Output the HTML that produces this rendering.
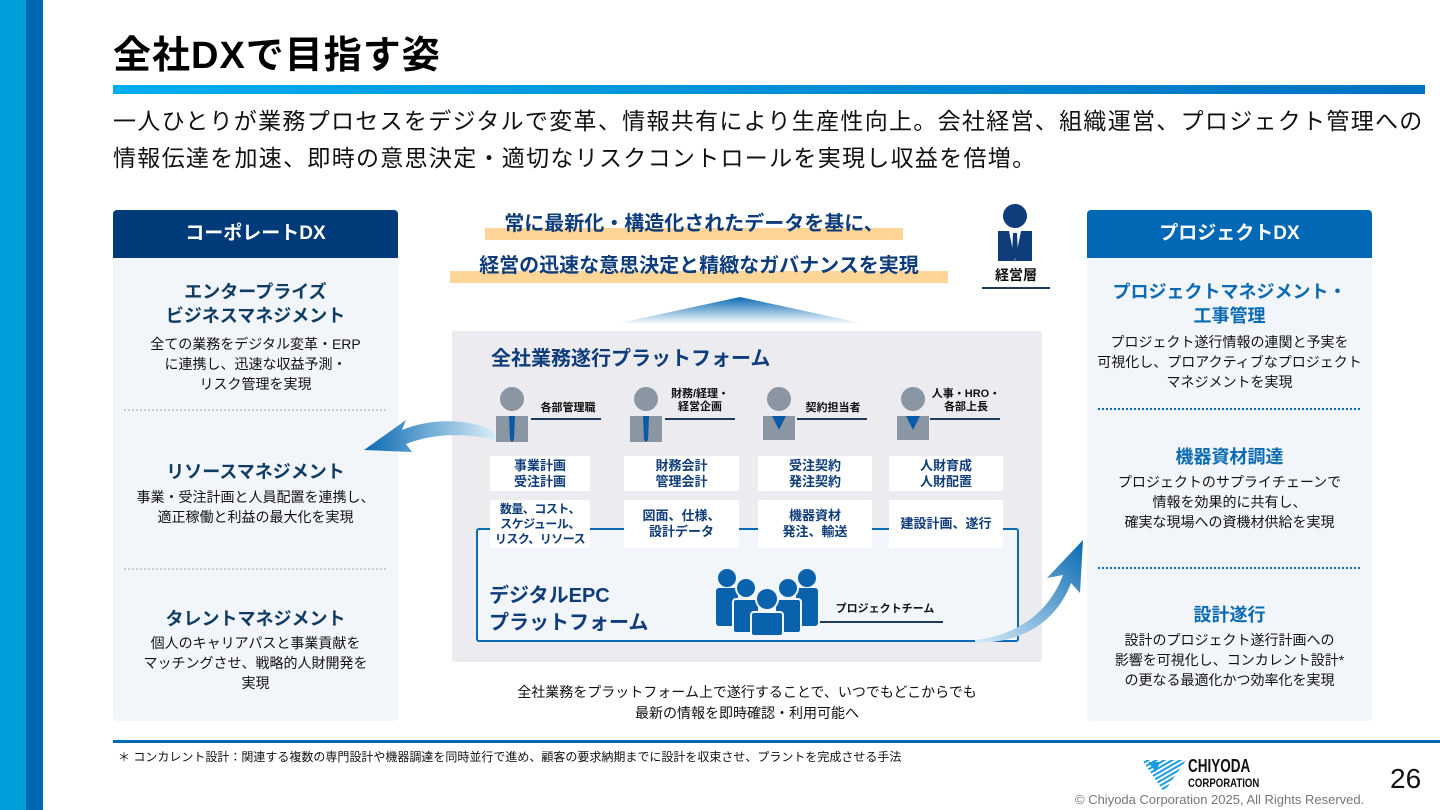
<!DOCTYPE html>
<html><head><meta charset="utf-8"><style>
*{margin:0;padding:0;box-sizing:border-box}
body{width:1440px;height:810px;position:relative;background:#fff;font-family:"Liberation Sans","Noto Sans CJK JP",sans-serif;overflow:hidden}
.a{position:absolute}
.c{text-align:center}
.panel{background:#f2f6fa;border-radius:4px}
.hd{color:#fff;font-weight:bold;font-size:19px;text-align:center;line-height:48px;border-radius:4px 4px 0 0}
.lt{color:#0f3c63;font-weight:bold;font-size:18px;line-height:24px}
.rt{color:#0a6ab3;font-weight:bold;font-size:18px;line-height:24px}
.tx{color:#111;font-size:14px;line-height:20px}
.card{background:#fff;color:#0f3c7a;font-weight:bold;font-size:13px;line-height:16px;display:flex;align-items:center;justify-content:center;text-align:center;white-space:nowrap}
.role{color:#111;font-weight:bold;font-size:11px;line-height:13px;text-align:center}
.uline{height:2px;background:#1f3b5c}
</style></head><body>
<div class="a" style="left:0;top:0;width:26px;height:810px;background:#009fdc"></div>
<div class="a" style="left:26px;top:0;width:17px;height:810px;background:#0068b3"></div>
<div class="a" style="left:113px;top:31px;font-size:38px;font-weight:bold;color:#000;line-height:50px;letter-spacing:1px">全社DXで目指す姿</div>
<div class="a" style="left:113px;top:85px;width:1312px;height:9px;background:linear-gradient(90deg,#00aeef,#0071c1)"></div>
<div class="a" style="left:113px;top:103px;font-size:23px;line-height:37px;color:#111;white-space:nowrap;letter-spacing:1.3px">一人ひとりが業務プロセスをデジタルで変革、情報共有により生産性向上。会社経営、組織運営、プロジェクト管理への<br>情報伝達を加速、即時の意思決定・適切なリスクコントロールを実現し収益を倍増。</div>

<!-- left panel -->
<div class="a panel" style="left:113px;top:210px;width:285px;height:511px"></div>
<div class="a hd" style="left:113px;top:210px;width:285px;background:#003a78">コーポレートDX</div>
<div class="a c lt" style="left:113px;top:280px;width:285px">エンタープライズ<br>ビジネスマネジメント</div>
<div class="a c tx" style="left:113px;top:334px;width:285px">全ての業務をデジタル変革・ERP<br>に連携し、迅速な収益予測・<br>リスク管理を実現</div>
<div class="a" style="left:124px;top:409px;width:262px;border-top:2px dotted #c8ccd2"></div>
<div class="a c lt" style="left:113px;top:460px;width:285px">リソースマネジメント</div>
<div class="a c tx" style="left:113px;top:487px;width:285px">事業・受注計画と人員配置を連携し、<br>適正稼働と利益の最大化を実現</div>
<div class="a" style="left:124px;top:568px;width:262px;border-top:2px dotted #c8ccd2"></div>
<div class="a c lt" style="left:113px;top:607px;width:285px">タレントマネジメント</div>
<div class="a c tx" style="left:113px;top:633px;width:285px">個人のキャリアパスと事業貢献を<br>マッチングさせ、戦略的人財開発を<br>実現</div>

<!-- right panel -->
<div class="a panel" style="left:1087px;top:210px;width:285px;height:511px"></div>
<div class="a hd" style="left:1087px;top:210px;width:285px;background:#0068b5">プロジェクトDX</div>
<div class="a c rt" style="left:1087px;top:280px;width:285px">プロジェクトマネジメント・<br>工事管理</div>
<div class="a c tx" style="left:1087px;top:332px;width:285px">プロジェクト遂行情報の連関と予実を<br>可視化し、プロアクティブなプロジェクト<br>マネジメントを実現</div>
<div class="a" style="left:1098px;top:408px;width:262px;border-top:2px dotted #0a6ab3"></div>
<div class="a c rt" style="left:1087px;top:445px;width:285px">機器資材調達</div>
<div class="a c tx" style="left:1087px;top:472px;width:285px">プロジェクトのサプライチェーンで<br>情報を効果的に共有し、<br>確実な現場への資機材供給を実現</div>
<div class="a" style="left:1098px;top:567px;width:262px;border-top:2px dotted #0a6ab3"></div>
<div class="a c rt" style="left:1087px;top:603px;width:285px">設計遂行</div>
<div class="a c tx" style="left:1087px;top:630px;width:285px">設計のプロジェクト遂行計画への<br>影響を可視化し、コンカレント設計*<br>の更なる最適化かつ効率化を実現</div>

<!-- top center -->
<div class="a" style="left:485px;top:228px;width:418px;height:12px;background:#fdd597"></div>
<div class="a c" style="left:465px;top:209px;width:458px;font-size:20px;font-weight:bold;color:#0f3c7a;line-height:30px;white-space:nowrap">常に最新化・構造化されたデータを基に、</div>
<div class="a" style="left:450px;top:271px;width:498px;height:12px;background:#fdd597"></div>
<div class="a c" style="left:430px;top:251px;width:538px;font-size:20px;font-weight:bold;color:#0f3c7a;line-height:30px;white-space:nowrap">経営の迅速な意思決定と精緻なガバナンスを実現</div>
<svg class="a" style="left:615px;top:294px" width="250" height="30"><defs><linearGradient id="tg" x1="0" y1="0" x2="0" y2="1"><stop offset="0" stop-color="#0a6ab3"/><stop offset="1" stop-color="#fff"/></linearGradient></defs><polygon points="125,3 0,30 250,30" fill="url(#tg)"/></svg>
<!-- executive -->
<svg class="a" style="left:995px;top:203px" width="40" height="62"><circle cx="20" cy="13" r="12" fill="#0f3c7a"/><path d="M3,28 h34 v30 h-34z" fill="#0f3c7a"/><path d="M14,28 h12 l-6,30z" fill="#fff"/><path d="M18,30 h4 l1,22 -3,4 -3,-4z" fill="#0f3c7a"/></svg>
<div class="a c" style="left:983px;top:265px;width:66px;font-size:14px;font-weight:bold;color:#111">経営層</div>
<div class="a" style="left:982px;top:287px;width:68px;height:2px;background:#1f3b5c"></div>

<!-- center box -->
<div class="a" style="left:452px;top:331px;width:590px;height:331px;background:#ebebf0;border-radius:3px"></div>
<div class="a" style="left:491px;top:344px;font-size:20px;font-weight:bold;color:#0f3c7a;line-height:30px">全社業務遂行プラットフォーム</div>
<div class="a" style="left:476px;top:528px;width:543px;height:114px;background:#f2f6fb;border:2px solid #0a6ab3;border-radius:3px"></div>
<div class="a" style="left:489px;top:583px;font-size:20px;font-weight:bold;color:#0f3c7a;line-height:27px">デジタルEPC<br>プラットフォーム</div>

<!-- persons -->
<svg class="a" style="left:496px;top:386px" width="34" height="56"><circle cx="16" cy="13" r="12" fill="#8a96a3"/><path d="M0,30 h32 v26 h-32z" fill="#8a96a3"/><path d="M13,30 h6 l-1,24 -2,2 -2,-2z" fill="#0a5aa6"/></svg>
<div class="a role" style="left:533px;top:402px;width:70px">各部管理職</div><div class="a uline" style="left:531px;top:418px;width:70px"></div>
<svg class="a" style="left:630px;top:386px" width="34" height="56"><circle cx="16" cy="13" r="12" fill="#8a96a3"/><path d="M0,30 h32 v26 h-32z" fill="#8a96a3"/><path d="M13,30 h6 l-1,24 -2,2 -2,-2z" fill="#0a5aa6"/></svg>
<div class="a role" style="left:665px;top:388px;width:70px">財務/経理・<br>経営企画</div><div class="a uline" style="left:665px;top:418px;width:70px"></div>
<svg class="a" style="left:763px;top:386px" width="34" height="56"><circle cx="16" cy="13" r="12" fill="#8a96a3"/><path d="M0,30 h32 v24 h-32z" fill="#8a96a3"/><path d="M9,30 h14 l-7,14z" fill="#0a5aa6"/></svg>
<div class="a role" style="left:798px;top:402px;width:70px">契約担当者</div><div class="a uline" style="left:797px;top:418px;width:70px"></div>
<svg class="a" style="left:897px;top:386px" width="34" height="56"><circle cx="16" cy="13" r="12" fill="#8a96a3"/><path d="M0,30 h32 v24 h-32z" fill="#8a96a3"/><path d="M9,30 h14 l-7,14z" fill="#0a5aa6"/></svg>
<div class="a role" style="left:931px;top:388px;width:70px">人事・HRO・<br>各部上長</div><div class="a uline" style="left:930px;top:418px;width:70px"></div>

<!-- cards -->
<div class="a card" style="left:490px;top:456px;width:100px;height:35px">事業計画<br>受注計画</div>
<div class="a card" style="left:624px;top:456px;width:115px;height:35px">財務会計<br>管理会計</div>
<div class="a card" style="left:758px;top:456px;width:114px;height:35px">受注契約<br>発注契約</div>
<div class="a card" style="left:889px;top:456px;width:114px;height:35px">人財育成<br>人財配置</div>
<div class="a card" style="left:490px;top:500px;width:100px;height:48px;font-size:12px;line-height:15px;letter-spacing:-0.5px">数量、コスト、<br>スケジュール、<br>リスク、リソース</div>
<div class="a card" style="left:624px;top:500px;width:115px;height:48px">図面、仕様、<br>設計データ</div>
<div class="a card" style="left:758px;top:500px;width:114px;height:48px">機器資材<br>発注、輸送</div>
<div class="a card" style="left:889px;top:500px;width:114px;height:48px">建設計画、遂行</div>

<!-- team -->
<svg class="a" style="left:712px;top:566px" width="110" height="70" fill="#0a62ad">
<circle cx="15" cy="12" r="9"/><rect x="4" y="22" width="22" height="38" rx="3"/>
<circle cx="95" cy="12" r="9"/><rect x="84" y="22" width="22" height="38" rx="3"/>
<circle cx="34" cy="22" r="10" stroke="#f2f6fb" stroke-width="2"/><rect x="21" y="33" width="26" height="34" rx="3" stroke="#f2f6fb" stroke-width="2"/>
<circle cx="76" cy="22" r="10" stroke="#f2f6fb" stroke-width="2"/><rect x="63" y="33" width="26" height="34" rx="3" stroke="#f2f6fb" stroke-width="2"/>
<circle cx="55" cy="33" r="11" stroke="#f2f6fb" stroke-width="2"/><rect x="39" y="46" width="32" height="24" rx="3" stroke="#f2f6fb" stroke-width="2"/></svg>
<div class="a role" style="left:830px;top:603px;width:110px">プロジェクトチーム</div>
<div class="a uline" style="left:820px;top:621px;width:123px"></div>

<!-- arrows -->
<svg class="a" style="left:360px;top:410px" width="140" height="50"><defs><linearGradient id="la" x1="0" x2="1"><stop offset="0" stop-color="#0a6ab3"/><stop offset="1" stop-color="#d8ecf8"/></linearGradient></defs><path d="M135,22 C110,8 70,8 42,20 L46,10 L4,40 L52,42 L46,34 C70,24 105,22 135,30z" fill="url(#la)"/></svg>
<svg class="a" style="left:975px;top:535px" width="120" height="110"><defs><linearGradient id="ra" x1="0" y1="1" x2="1" y2="0"><stop offset="0" stop-color="#d8ecf8"/><stop offset="1" stop-color="#0a6ab3"/></linearGradient></defs><path d="M0,105 C45,100 75,75 88,40 L72,43 L108,5 L105,58 L96,48 C82,85 50,108 0,108z" fill="url(#ra)"/></svg>

<div class="a c" style="left:452px;top:682px;width:590px;font-size:14px;line-height:21px;color:#111">全社業務をプラットフォーム上で遂行することで、いつでもどこからでも<br>最新の情報を即時確認・利用可能へ</div>

<div class="a" style="left:113px;top:740px;width:1327px;height:3px;background:#0068b3"></div>
<div class="a" style="left:118px;top:748px;font-size:12px;color:#111;white-space:nowrap">＊ コンカレント設計：関連する複数の専門設計や機器調達を同時並行で進め、顧客の要求納期までに設計を収束させ、プラントを完成させる手法</div>

<!-- logo -->
<svg class="a" style="left:1142px;top:758px" width="46" height="36"><defs><pattern id="st" width="4" height="4" patternUnits="userSpaceOnUse" patternTransform="rotate(60)"><rect width="2" height="4" fill="#1b9be0"/></pattern></defs><polygon points="0,2 44,2 22,34" fill="url(#st)"/><polygon points="6,4 18,4 14,14" fill="#1b9be0"/></svg>
<div class="a" style="left:1188px;top:757px;font-size:18px;font-weight:bold;color:#111;line-height:18px;transform:scaleX(0.75);transform-origin:left">CHIYODA</div>
<div class="a" style="left:1188px;top:777px;font-size:12px;font-weight:bold;color:#111;line-height:12px;transform:scaleX(0.8);transform-origin:left">CORPORATION</div>
<div class="a" style="left:1390px;top:763px;font-size:28px;color:#111">26</div>
<div class="a" style="left:1075px;top:792px;font-size:13px;color:#777;white-space:nowrap">© Chiyoda Corporation 2025, All Rights Reserved.</div>
</body></html>
